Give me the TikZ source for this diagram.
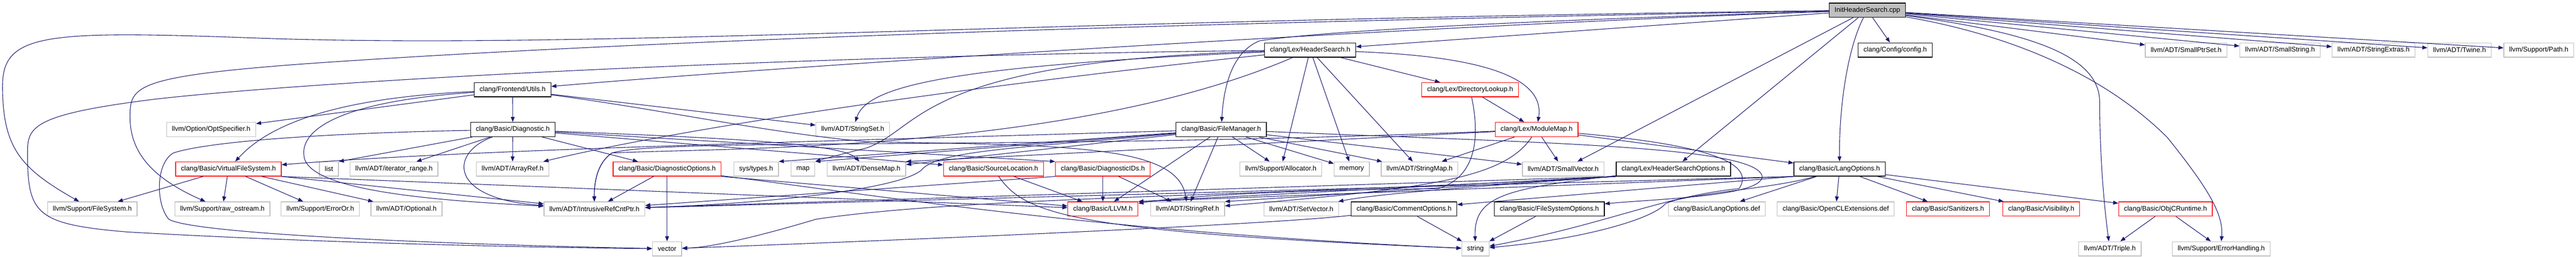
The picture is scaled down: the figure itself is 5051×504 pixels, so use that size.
\documentclass[tikz,border=0pt]{standalone}
\usepackage{fontspec}
\setmainfont{Liberation Sans}
\usepackage{tikz}
\usetikzlibrary{arrows.meta}
\definecolor{edgeblue}{HTML}{191970}
\definecolor{boxgray}{HTML}{BFBFBF}

\begin{document}
\begin{tikzpicture}[x=1pt,y=-1pt,
  hdr/.style={draw=boxgray, line width=1.3pt, minimum height=28pt, inner xsep=10.5pt, inner ysep=0pt, font=\fontsize{13.3}{16}\selectfont},
  doc/.style={hdr, draw=black},
  trunc/.style={hdr, draw=red},
  srcfile/.style={hdr, draw=black, fill=boxgray},
  inc/.style={draw=edgeblue, line width=1.1pt, -{Triangle[length=10pt,width=7.5pt]}}]
	\useasboundingbox (0,0) rectangle (5051,504);
	%Nodes
	\node[srcfile] (cpp) at (3661.5,20) {InitHeaderSearch.cpp};
	\node[doc] (hsearch) at (2569,98) {clang/Lex/HeaderSearch.h};
	\node[doc] (config) at (3716,98) {clang/Config/config.h};
	\node[hdr] (smallptrset) at (4286.5,98) {llvm/ADT/SmallPtrSet.h};
	\node[hdr] (smallstring) at (4470.5,98) {llvm/ADT/SmallString.h};
	\node[hdr] (strextras) at (4654,98) {llvm/ADT/StringExtras.h};
	\node[hdr] (twine) at (4822.5,98) {llvm/ADT/Twine.h};
	\node[hdr] (suppath) at (4978,98) {llvm/Support/Path.h};
	\node[doc] (utils) at (1005,176) {clang/Frontend/Utils.h};
	\node[trunc] (dirlookup) at (2882.5,176) {clang/Lex/DirectoryLookup.h};
	\node[hdr] (optspec) at (414,254) {llvm/Option/OptSpecifier.h};
	\node[doc] (diag) at (1005.5,254) {clang/Basic/Diagnostic.h};
	\node[hdr] (stringset) at (1672,254) {llvm/ADT/StringSet.h};
	\node[doc] (filemgr) at (2394.5,254) {clang/Basic/FileManager.h};
	\node[trunc] (modmap) at (3013,254) {clang/Lex/ModuleMap.h};
	\node[trunc] (vfs) at (448,331.5) {clang/Basic/VirtualFileSystem.h};
	\node[hdr] (list) at (645,331.5) {list};
	\node[hdr] (iterrange) at (772.5,331.5) {llvm/ADT/iterator\_range.h};
	\node[hdr] (arrayref) at (1005,331.5) {llvm/ADT/ArrayRef.h};
	\node[trunc] (diagopts) at (1308,331.5) {clang/Basic/DiagnosticOptions.h};
	\node[hdr] (systypes) at (1482.5,331.5) {sys/types.h};
	\node[hdr] (map) at (1574.5,331.5) {map};
	\node[hdr] (densemap) at (1699,331.5) {llvm/ADT/DenseMap.h};
	\node[trunc] (srcloc) at (1948,331.5) {clang/Basic/SourceLocation.h};
	\node[trunc] (diagids) at (2162.5,331.5) {clang/Basic/DiagnosticIDs.h};
	\node[hdr] (allocator) at (2511.5,331.5) {llvm/Support/Allocator.h};
	\node[hdr] (memory) at (2650.5,331.5) {memory};
	\node[hdr] (stringmap) at (2783.5,331.5) {llvm/ADT/StringMap.h};
	\node[hdr] (smallvec) at (3065,331.5) {llvm/ADT/SmallVector.h};
	\node[doc] (hsopts) at (3281,331.5) {clang/Lex/HeaderSearchOptions.h};
	\node[doc] (langopts) at (3607,331.5) {clang/Basic/LangOptions.h};
	\node[hdr] (filesystem) at (181,410) {llvm/Support/FileSystem.h};
	\node[hdr] (rawostream) at (436,410) {llvm/Support/raw\_ostream.h};
	\node[hdr] (erroror) at (628,410) {llvm/Support/ErrorOr.h};
	\node[hdr] (optional) at (797,410) {llvm/ADT/Optional.h};
	\node[hdr] (intrusive) at (1165.5,410) {llvm/ADT/IntrusiveRefCntPtr.h};
	\node[trunc] (llvmh) at (2162.5,410) {clang/Basic/LLVM.h};
	\node[hdr] (stringref) at (2328.5,410) {llvm/ADT/StringRef.h};
	\node[hdr] (setvector) at (2551.5,410) {llvm/ADT/SetVector.h};
	\node[doc] (commentopts) at (2753,410) {clang/Basic/CommentOptions.h};
	\node[doc] (fsopts) at (3038,410) {clang/Basic/FileSystemOptions.h};
	\node[hdr] (langdef) at (3366.5,410) {clang/Basic/LangOptions.def};
	\node[hdr] (opencl) at (3599.5,410) {clang/Basic/OpenCLExtensions.def};
	\node[trunc] (sanitizers) at (3819.5,410) {clang/Basic/Sanitizers.h};
	\node[trunc] (visibility) at (4002.5,410) {clang/Basic/Visibility.h};
	\node[trunc] (objcrt) at (4246,410) {clang/Basic/ObjCRuntime.h};
	\node[hdr] (vector) at (1308,488) {vector};
	\node[hdr] (string) at (2893,488) {string};
	\node[hdr] (triple) at (4137,488) {llvm/ADT/Triple.h};
	\node[hdr] (errhandling) at (4355.5,488) {llvm/Support/ErrorHandling.h};
	%Straight edges
	\draw
		(cpp) edge[inc] (hsearch)
		(cpp) edge[inc] (config)
		(cpp) edge[inc] (hsopts)
		(cpp) edge[inc] (smallvec)
		(cpp) edge[inc] (smallptrset)
		(cpp) edge[inc] (smallstring)
		(cpp) edge[inc] (strextras)
		(cpp) edge[inc] (twine)
		(cpp) edge[inc] (suppath)
		
		(utils) edge[inc] (diag)
		(utils) edge[inc] (optspec)
		(utils) edge[inc] (stringset)
		
		(diag) edge[inc] (list.north east)
		(diag) edge[inc] (iterrange)
		(diag) edge[inc] (arrayref)
		(diag) edge[inc] (diagopts)
		(diag) edge[inc] (srcloc)
		(diag) edge[inc] (diagids.north west)
		
		(vfs) edge[inc] (filesystem)
		(vfs) edge[inc] (rawostream)
		(vfs) edge[inc] (erroror)
		(vfs) edge[inc] (optional)
		(vfs.south east) edge[inc] (intrusive)
		(vfs.south east) edge[inc] (llvmh)
		
		(diagopts) edge[inc] (intrusive)
		(diagopts) edge[inc] (vector)
		(diagopts.south east) edge[inc] (llvmh)
		(srcloc) edge[inc] (llvmh)
		(diagids) edge[inc] (llvmh)
		(diagids) edge[inc] (stringref)
		(diagids.south west) edge[inc] (intrusive)
		
		(filemgr) edge[inc] (llvmh)
		(filemgr) edge[inc] (stringref)
		(filemgr) edge[inc] (allocator)
		(filemgr) edge[inc] (memory)
		(filemgr) edge[inc] (stringmap)
		(filemgr) edge[inc] (smallvec)
		(filemgr) edge[inc] (densemap)
		(filemgr) edge[inc] (systypes.north east)
		(filemgr) edge[inc] (map.north east)
		
		(hsearch) edge[inc] (dirlookup)
		(hsearch) edge[inc] (allocator)
		(hsearch) edge[inc] (memory)
		(hsearch) edge[inc] (stringmap)
		(dirlookup) edge[inc] (modmap)
		
		(modmap) edge[inc] (stringmap)
		(modmap) edge[inc] (smallvec)
		(modmap) edge[inc] (densemap.north east)
		(modmap) edge[inc] (langopts)
		
		(hsopts.south west) edge[inc] (llvmh.north east)
		(hsopts.south west) edge[inc] (stringref.north east)
		(hsopts.south west) edge[inc] (intrusive)
		
		(langopts.south west) edge[inc] (commentopts)
		(langopts.south west) edge[inc] (llvmh.north east)
		(langopts.south west) edge[inc] (intrusive)
		(langopts) edge[inc] (langdef)
		(langopts) edge[inc] (opencl)
		(langopts) edge[inc] (sanitizers)
		(langopts) edge[inc] (visibility)
		(langopts) edge[inc] (objcrt)
		
		(objcrt) edge[inc] (triple)
		(objcrt) edge[inc] (errhandling)
		(commentopts) edge[inc] (string)
		(fsopts) edge[inc] (string)
	;
	%Curved edges
	\draw[inc] (cpp) .. controls (2000,40) and (1200,95) .. (542,76) .. controls (100,60) and (5,60) .. (5,168) .. controls (5,290) and (40,330) .. (filesystem);
	\draw[inc] (cpp) .. controls (2000,50) and (1100,90) .. (600,125) .. controls (260,150) and (255,170) .. (255,230) .. controls (255,300) and (300,350) .. (rawostream);
	\draw[inc] (cpp) .. controls (2800,50) and (1600,125) .. (utils);
	\draw[inc] (cpp) .. controls (3000,40) and (2600,60) .. (2470,80) .. controls (2420,100) and (2400,160) .. (filemgr);
	\draw[inc] (cpp) .. controls (3625,90) and (3606,200) .. (langopts);
	\draw[inc] (cpp) .. controls (3950,60) and (4117,100) .. (4117,200) .. controls (4117,300) and (4125,400) .. (triple);
	\draw[inc] (cpp) .. controls (3950,70) and (4130,150) .. (4250,270) .. controls (4330,370) and (4360,420) .. (errhandling.north);
	
	\draw[inc] (utils) .. controls (700,190) and (540,230) .. (vfs);
	\draw[inc] (utils) .. controls (650,200) and (590,260) .. (596,305) .. controls (600,380) and (900,395) .. (intrusive);
	\draw[inc] (utils) .. controls (1300,215) and (1500,260) .. (1700,278) .. controls (2100,285) and (2310,285) .. (stringref);
	
	\draw[inc] (diag) .. controls (600,262) and (400,280) .. (340,300) .. controls (305,320) and (305,400) .. (331,430) .. controls (380,460) and (900,480) .. (vector);
	\draw[inc] (diag) .. controls (880,300) and (880,390) .. (intrusive);
	\draw[inc] (diag) .. controls (1400,270) and (1650,280) .. (densemap);
	
	\draw[inc] (hsearch) .. controls (2900,110) and (3030,150) .. (modmap);
	\draw[inc] (hsearch) .. controls (1850,130) and (1700,170) .. (stringset);
	\draw[inc] (hsearch) .. controls (1800,180) and (1300,260) .. (arrayref);
	\draw[inc] (hsearch) .. controls (1800,120) and (1810,250) .. (1700,290) .. controls (1660,300) and (1620,310) .. (map.north east);
	\draw[inc] (hsearch) .. controls (2100,300) and (1400,290) .. (1200,300) .. controls (1170,320) and (1165,360) .. (intrusive);
	\draw[inc] (hsearch) .. controls (1500,110) and (600,160) .. (300,195) .. controls (60,225) and (54,250) .. (54,300) .. controls (54,420) and (70,440) .. (250,455) .. controls (600,475) and (1000,485) .. (vector);
	
	\draw[inc] (filemgr) .. controls (1500,280) and (900,295) .. (vfs);
	\draw[inc] (filemgr) .. controls (2000,290) and (1850,295) .. (1810,330) .. controls (1780,370) and (1500,400) .. (intrusive);
	\draw[inc] (filemgr) .. controls (3000,280) and (3440,285) .. (3455,345) .. controls (3460,385) and (3250,390) .. (fsopts);
	
	\draw[inc] (dirlookup) .. controls (2900,260) and (2900,345) .. (2820,370) .. controls (2600,372) and (2350,380) .. (llvmh);
	\draw[inc] (modmap) .. controls (3300,280) and (3450,310) .. (3410,370) .. controls (3260,385) and (3150,440) .. (string);
	\draw[inc] (modmap) .. controls (2950,350) and (2800,370) .. (stringref);
	\draw[inc] (modmap) .. controls (2000,295) and (1300,270) .. (1200,300) .. controls (1170,320) and (1165,360) .. (intrusive);
	
	\draw[inc] (hsopts.south west) .. controls (2900,365) and (2700,380) .. (setvector);
	\draw[inc] (hsopts) .. controls (2950,370) and (2890,385) .. (string);
	\draw[inc] (hsopts.south west) .. controls (2500,385) and (1900,385) .. (1600,430) .. controls (1500,460) and (1400,485) .. (vector);
	\draw[inc] (langopts) .. controls (3480,370) and (3300,380) .. (3265,400) .. controls (3240,430) and (3100,470) .. (string);
	
	\draw[inc] (commentopts) .. controls (2500,440) and (1800,470) .. (vector);
	\draw[inc] (srcloc) .. controls (2010,420) and (2100,455) .. (string);
	\draw[inc] (diagopts) .. controls (1700,380) and (2150,455) .. (string);
\end{tikzpicture}
\end{document}
